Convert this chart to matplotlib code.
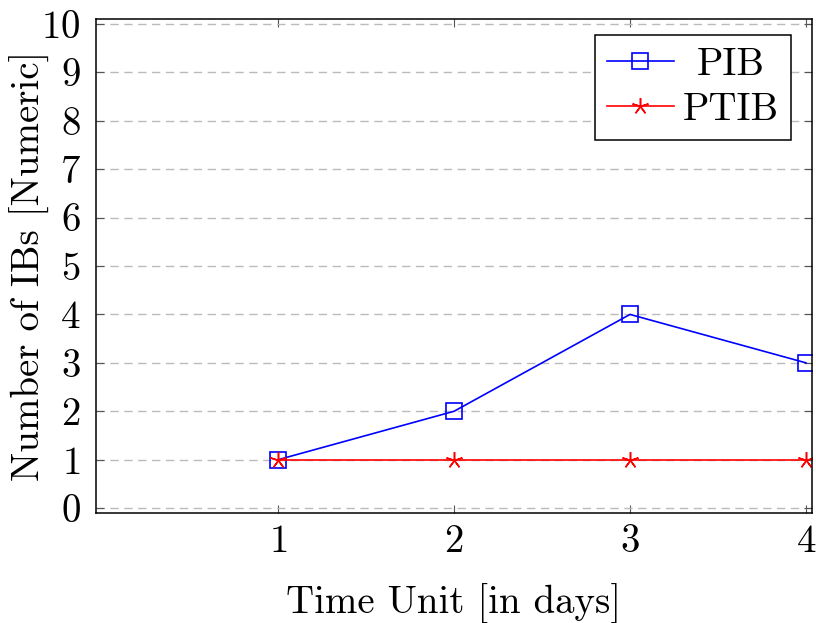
import matplotlib
matplotlib.use('Agg')
import matplotlib.pyplot as plt

days = [1, 2, 3, 4]
pib = [1, 2, 4, 3]
ptib = [1, 1, 1, 1]
yticks = list(range(0, 11))

plt.rcParams['font.family'] = 'cmr10'
plt.rcParams['mathtext.fontset'] = 'cm'
plt.rcParams['axes.formatter.use_mathtext'] = True

fig = plt.figure(figsize=(8.16, 6.23), dpi=100)
ax = fig.add_axes([96 / 816, 110 / 623, 716 / 816, 494 / 623])

ax.plot(days, pib, color='blue', linewidth=1.2, marker='s', markersize=11.5,
        markerfacecolor='none', markeredgewidth=1.2, label='PIB')
ax.plot(days, ptib, color='red', linewidth=1.2, marker=(5, 2, 0), markersize=12,
        markeredgewidth=1.1, label='PTIB')

ax.set_xlim(-0.034, 4.034)
ax.set_ylim(-0.1, 10.1)
ax.set_xticks(days)
ax.set_yticks(yticks)
ax.yaxis.grid(True, color='#bbbbbb', linestyle=(0, (6, 4)), linewidth=1.0)
ax.set_axisbelow(True)

ax.tick_params(direction='in', length=6, width=0.8, color='#555555',
               top=True, right=True, labelsize=28)
ax.tick_params(axis='x', pad=8)
ax.tick_params(axis='y', pad=11)
for s in ax.spines.values():
    s.set_linewidth(1.1)

ax.set_xlabel('Time Unit [in days]', fontsize=28, labelpad=17)
ax.set_ylabel('Number of IBs [Numeric]', fontsize=28, labelpad=-6)

leg = ax.legend(loc='upper right', bbox_to_anchor=(0.9707, 0.9676), fontsize=28,
                fancybox=False, edgecolor='black', framealpha=1,
                handlelength=1.72, handletextpad=0.25, borderpad=0.3,
                labelspacing=0.25, borderaxespad=0)
leg.get_frame().set_linewidth(1.1)
# centre the shorter label like pgfplots does
leg.get_texts()[0].set_x(14)

fig.savefig('out.png', dpi=100)
